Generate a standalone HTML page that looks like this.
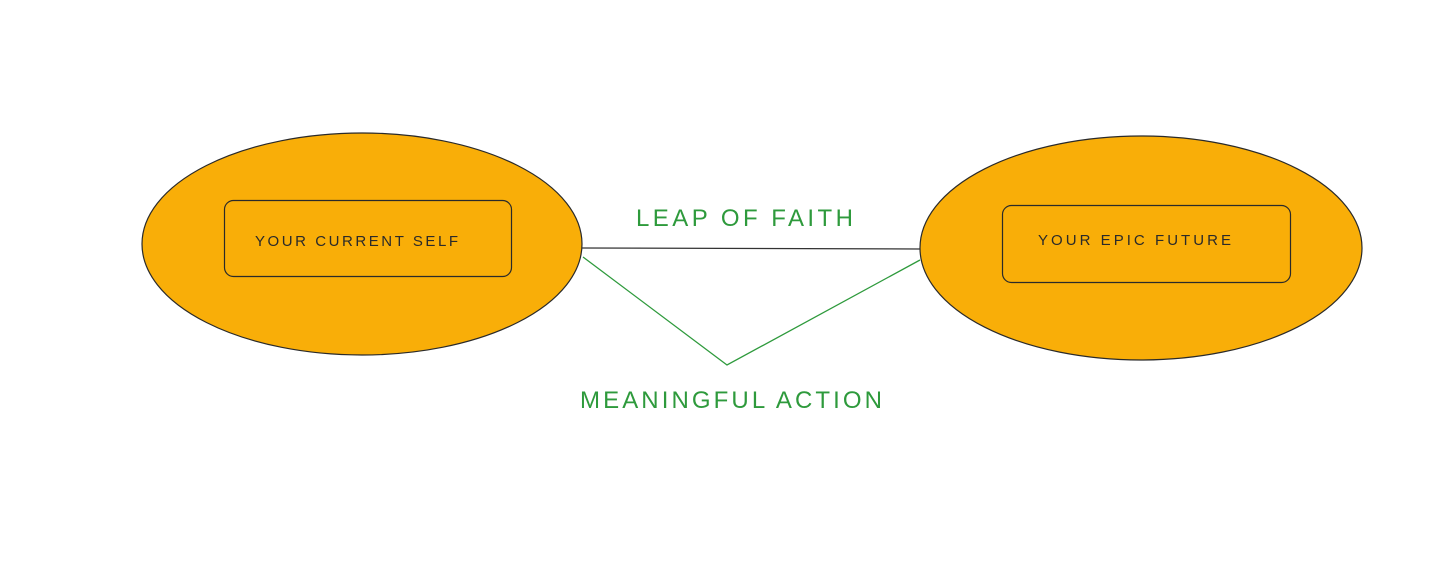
<!DOCTYPE html>
<html><head><meta charset="utf-8"><style>html,body{margin:0;padding:0;background:#fff}</style></head>
<body>
<svg width="1456" height="556" viewBox="0 0 1456 556" xmlns="http://www.w3.org/2000/svg">
<rect width="1456" height="556" fill="#fff"/>
<ellipse cx="362" cy="244" rx="220" ry="111" fill="#f9ae08" stroke="#2a2a2a" stroke-width="1.2"/>
<ellipse cx="1141" cy="248" rx="221" ry="112" fill="#f9ae08" stroke="#2a2a2a" stroke-width="1.2"/>
<rect x="224.5" y="200.5" width="287" height="76" rx="9" fill="none" stroke="#2a2a2a" stroke-width="1.2"/>
<rect x="1002.5" y="205.5" width="288" height="77" rx="9" fill="none" stroke="#2a2a2a" stroke-width="1.2"/>
<text x="255" y="246" font-family="Liberation Sans, sans-serif" font-size="15" fill="#2a2a2a" textLength="203" lengthAdjust="spacing">YOUR CURRENT SELF</text>
<text x="1038" y="245" font-family="Liberation Sans, sans-serif" font-size="15" fill="#2a2a2a" textLength="193" lengthAdjust="spacing">YOUR EPIC FUTURE</text>
<line x1="582" y1="248" x2="920" y2="249" stroke="#333" stroke-width="1.3"/>
<polyline points="583,257 727,365 920,260" fill="none" stroke="#2e9a3c" stroke-width="1.3"/>
<text x="636" y="226" font-family="Liberation Sans, sans-serif" font-size="24" fill="#2e9a3c" textLength="217" lengthAdjust="spacing">LEAP OF FAITH</text>
<text x="580" y="408" font-family="Liberation Sans, sans-serif" font-size="24" fill="#2e9a3c" textLength="302" lengthAdjust="spacing">MEANINGFUL ACTION</text>
</svg>
</body></html>
